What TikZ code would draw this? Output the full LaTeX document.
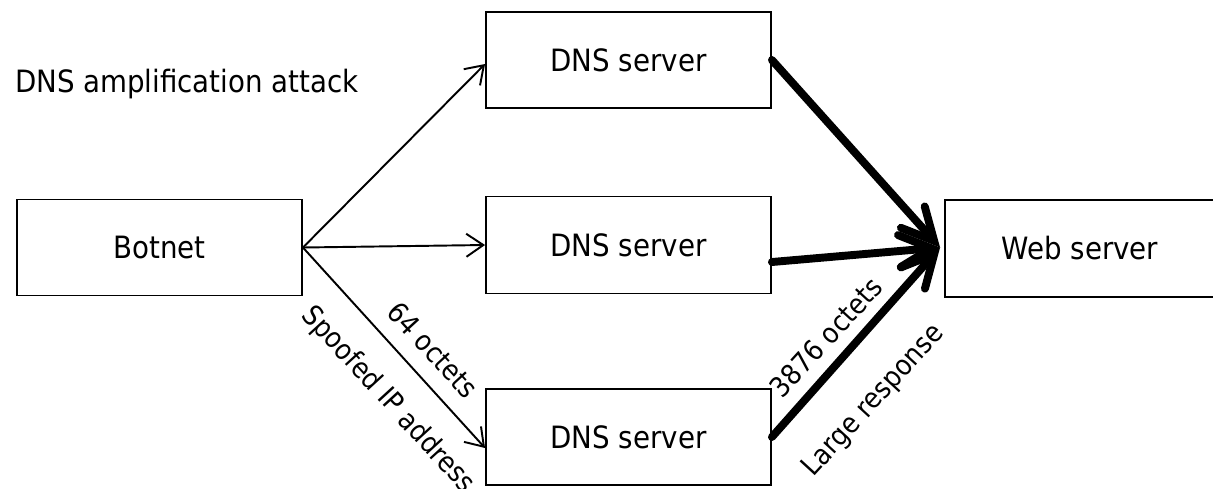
\documentclass[tikz,border=0pt]{standalone}
\usepackage{fontspec}
\setmainfont{DejaVu Sans Condensed}
\usetikzlibrary{arrows.meta,calc}
\tikzset{
  box/.style={draw, line width=1.1pt, inner sep=0pt,
              font=\fontsize{17.5}{20}\selectfont},
  thinarrow/.style={line width=1.1pt, -{Straight Barb[length=3.4mm,width=4.6mm]}},
  thickarrow/.style={line width=4.5pt, line cap=round,
                     -{Straight Barb[length=6.4mm,width=6.4mm,line cap=round]}},
  lbl/.style={font=\fontsize{16}{19}\selectfont, inner sep=0pt}
}
\begin{document}
\begin{tikzpicture}[x=0.02cm,y=-0.02cm]
  \useasboundingbox (0,0) rectangle (1213,488);

  % title
  \node[anchor=west, font=\fontsize{17.5}{20}\selectfont] (title) at (9,84) {DNS amplification attack};

  % boxes
  \node[box, minimum width=5.7cm, minimum height=1.92cm] (botnet) at (159.5,247.5) {Botnet};
  \node[box, minimum width=5.7cm, minimum height=1.92cm] (dns1) at (628.5,60) {DNS server};
  \node[box, minimum width=5.7cm, minimum height=1.94cm] (dns2) at (628.5,245) {DNS server};
  \node[box, minimum width=5.7cm, minimum height=1.92cm] (dns3) at (628.5,437) {DNS server};
  \node[box, minimum width=5.4cm, minimum height=1.94cm] (web) at (1080,248.5) {Web server};

  % queries from the botnet
  \draw[thinarrow] (botnet.east) -- ($(dns1.west)+(0,4)$);
  \draw[thinarrow] (botnet.east) -- (dns2.west);
  \draw[thinarrow] (botnet.east) -- ($(dns3.west)+(0,11)$);

  % amplified responses to the victim
  \coordinate (hit) at ($(web.west)+(-4,-1)$);
  \draw[thickarrow] (dns1.east) -- (hit);
  \draw[thickarrow] ($(dns2.east)+(0,17)$) -- (hit);
  \draw[thickarrow] (dns3.east) -- (hit);

  % edge labels
  \node[lbl, rotate=-47.5] (q1) at (433,350) {64 octets};
  \node[lbl, rotate=-47.5] (q2) at (388,400) {Spoofed IP address};
  \node[lbl, rotate=47.5] (r1) at (826,337) {3876 octets};
  \node[lbl, rotate=47.5] (r2) at (874,401) {Large response};
\end{tikzpicture}
\end{document}
